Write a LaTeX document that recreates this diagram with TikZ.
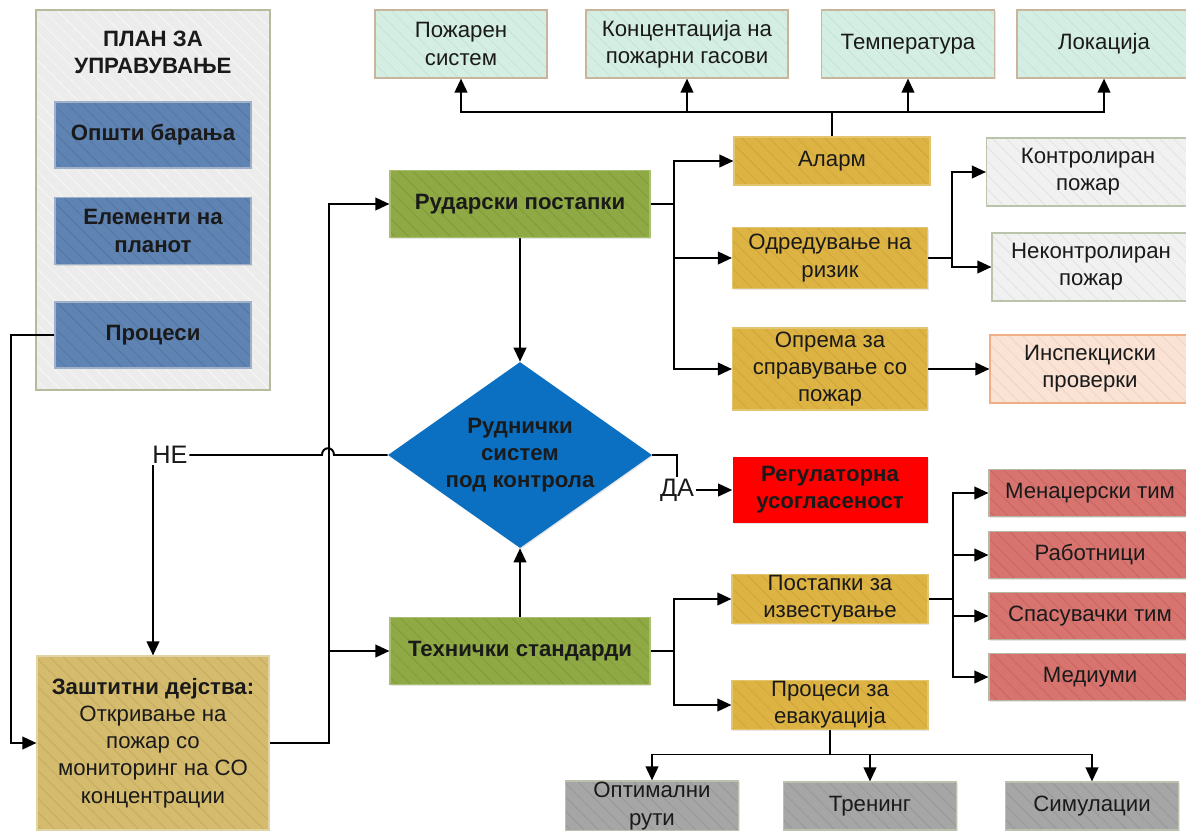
\documentclass[tikz,border=0pt]{standalone}
\usepackage{fontspec}
\setmainfont{Liberation Sans}
\usetikzlibrary{arrows.meta}
\usetikzlibrary{shapes.geometric}
\usetikzlibrary{shadows}
\usetikzlibrary{patterns.meta}
\pgfdeclarelayer{edgelayer}
\pgfdeclarelayer{nodelayer}
\pgfsetlayers{edgelayer,nodelayer,main}
\definecolor{ink}{HTML}{1A1A1A}
\definecolor{panelfill}{HTML}{ECECEC}
\definecolor{panelhatch}{HTML}{F8F8F8}
\definecolor{panelline}{HTML}{B5BC9E}
\definecolor{planblue}{HTML}{5F83B3}
\definecolor{planhatch}{HTML}{55779F}
\definecolor{planline}{HTML}{9FB0C9}
\definecolor{mint}{HTML}{D5EEE3}
\definecolor{minthatch}{HTML}{C6E3D6}
\definecolor{mintline}{HTML}{C9B59B}
\definecolor{gold}{HTML}{DDB443}
\definecolor{goldhatch}{HTML}{CFA63A}
\definecolor{goldline}{HTML}{E3C46F}
\definecolor{grass}{HTML}{8FAA44}
\definecolor{grasshatch}{HTML}{819B3A}
\definecolor{grassline}{HTML}{A9BF73}
\definecolor{pale}{HTML}{F1F1F1}
\definecolor{palehatch}{HTML}{E3E3E3}
\definecolor{paleline}{HTML}{BAC4AB}
\definecolor{peach}{HTML}{FAE3D5}
\definecolor{peachhatch}{HTML}{F0D2C1}
\definecolor{peachline}{HTML}{F0AE86}
\definecolor{salmon}{HTML}{D8746F}
\definecolor{salmonhatch}{HTML}{CA6660}
\definecolor{salmonline}{HTML}{B5B9A4}
\definecolor{routegrey}{HTML}{A6A6A6}
\definecolor{routehatch}{HTML}{989898}
\definecolor{routeline}{HTML}{BAC1AC}
\definecolor{khaki}{HTML}{D5BB6E}
\definecolor{khakihatch}{HTML}{C6AC5E}
\definecolor{khakiline}{HTML}{E2D3A4}
\definecolor{decblue}{HTML}{0B70C1}
\definecolor{alertred}{HTML}{FF0000}
\newcommand{\boxfont}{\fontsize{15.8}{19.3}\selectfont}
\newcommand{\yesnofont}{\fontsize{18}{20}\selectfont}
\tikzset{hatched/.style n args={3}{preaction={fill=#1},pattern={Lines[angle=-45,distance=7pt,line width=0.6pt]},pattern color=#2,draw=#3,line width=0.8pt}}
\tikzstyle{none}=[inner sep=0pt]
\tikzstyle{flow}=[-{Triangle[length=10pt,width=9pt]},draw=black,line width=1.4pt]
\tikzstyle{line}=[draw=black,line width=1.4pt]
\tikzstyle{box}=[rectangle,align=center,inner sep=1pt,font=\boxfont,text=ink,drop shadow={opacity=0.2,shadow xshift=0.8pt,shadow yshift=-0.8pt}]
\tikzstyle{panel}=[box,hatched={panelfill}{panelhatch}{panelline},minimum width=5.85cm,minimum height=9.5cm]
\tikzstyle{title}=[inner sep=0pt,align=center,font=\boxfont\bfseries,text=ink]
\tikzstyle{planitem}=[box,hatched={planblue}{planhatch}{planline},font=\boxfont\bfseries,minimum width=4.9cm,minimum height=1.65cm]
\tikzstyle{sensor}=[box,hatched={mint}{minthatch}{mintline},minimum height=1.7cm]
\tikzstyle{action}=[box,hatched={gold}{goldhatch}{goldline},minimum width=4.9cm]
\tikzstyle{branch}=[box,hatched={grass}{grasshatch}{grassline},font=\boxfont\bfseries,minimum width=6.5cm,minimum height=1.675cm]
\tikzstyle{fire}=[box,hatched={pale}{palehatch}{paleline},minimum height=1.7cm]
\tikzstyle{check}=[box,hatched={peach}{peachhatch}{peachline},minimum width=5cm,minimum height=1.7cm]
\tikzstyle{team}=[box,hatched={salmon}{salmonhatch}{salmonline},minimum width=5.05cm,minimum height=1.175cm]
\tikzstyle{route}=[box,hatched={routegrey}{routehatch}{routeline},minimum width=4.33cm,minimum height=1.2cm]
\tikzstyle{protect}=[box,hatched={khaki}{khakihatch}{khakiline},minimum width=5.8cm,minimum height=4.35cm]
\tikzstyle{alert}=[box,fill=alertred,minimum width=4.875cm,minimum height=1.65cm,font=\boxfont\bfseries]
\tikzstyle{decision}=[diamond,fill=decblue,inner sep=0pt,minimum width=6.6cm,minimum height=4.65cm,drop shadow={opacity=0.2,shadow xshift=0.8pt,shadow yshift=-0.8pt}]
\tikzstyle{answer}=[inner sep=1pt,font=\yesnofont,text=ink]

\begin{document}
\begin{tikzpicture}
	\useasboundingbox (0, 0) rectangle (29.65, -20.75);
	\begin{pgfonlayer}{nodelayer}
		\node [style=panel] (0) at (3.825, -5) {};
		\node [style=title] (1) at (3.825, -1.3) {ПЛАН ЗА\\УПРАВУВАЊЕ};
		\node [style=planitem] (2) at (3.825, -3.375) {Општи барања};
		\node [style=planitem, minimum height=1.675cm] (3) at (3.825, -5.775) {Елементи на\\планот};
		\node [style=planitem] (4) at (3.825, -8.375) {Процеси};
		\node [style=sensor, minimum width=4.3cm] (5) at (11.525, -1.1) {Пожарен\\систем};
		\node [style=sensor, minimum width=5.05cm] (6) at (17.175, -1.1) {Концентација на\\пожарни гасови};
		\node [style=sensor, minimum width=4.325cm] (7) at (22.7, -1.1) {Температура};
		\node [style=sensor, minimum width=4.35cm] (8) at (27.6, -1.1) {Локација};
		\node [style=branch] (9) at (13, -5.1) {Рударски постапки};
		\node [style=action, minimum height=1.2cm] (10) at (20.8, -4.025) {Аларм};
		\node [style=action, minimum width=4.875cm, minimum height=1.525cm] (11) at (20.75, -6.45) {Одредување на\\ризик};
		\node [style=action, minimum width=4.875cm, minimum height=2.05cm] (12) at (20.75, -9.225) {Опрема за\\справување со\\пожар};
		\node [style=fire, minimum width=5.075cm] (13) at (27.2, -4.3) {Контролиран\\пожар};
		\node [style=fire, minimum width=4.95cm] (14) at (27.275, -6.675) {Неконтролиран\\пожар};
		\node [style=check] (15) at (27.25, -9.225) {Инспекциски\\проверки};
		\node [style=decision] (16) at (13, -11.375) {};
		\node [style=title] (17) at (13, -11.375) {Руднички\\систем\\под контрола};
		\node [style=answer] (18) at (4.25, -11.375) {НЕ};
		\node [style=answer] (19) at (16.925, -12.25) {ДА};
		\node [style=alert] (20) at (20.75, -12.25) {Регулаторна\\усогласеност};
		\node [style=branch] (21) at (13, -16.275) {Технички стандарди};
		\node [style=action, minimum height=1.2cm] (22) at (20.75, -14.975) {Постапки за\\известување};
		\node [style=action, minimum height=1.175cm] (23) at (20.75, -17.625) {Процеси за\\евакуација};
		\node [style=team] (24) at (27.25, -12.325) {Менаџерски тим};
		\node [style=team] (25) at (27.25, -13.875) {Работници};
		\node [style=team] (26) at (27.25, -15.4) {Спасувачки тим};
		\node [style=team] (27) at (27.25, -16.925) {Медиуми};
		\node [style=route] (28) at (16.3, -20.15) {Оптимални\\рути};
		\node [style=route] (29) at (21.75, -20.15) {Тренинг};
		\node [style=route] (30) at (27.3, -20.15) {Симулации};
		\node [style=protect] (31) at (3.825, -18.575) {\textbf{Заштитни дејства:}\\Откривање на\\пожар со\\мониторинг на CO\\концентрации};
	\end{pgfonlayer}
	\begin{pgfonlayer}{edgelayer}
		\draw [style=flow] (31.east) -- ++(1.475, 0) coordinate (33) |- (9.west);
		\draw [style=flow] (33 |- 21.west) -- (21.west);
		\draw [style=line] (16.west) -- (8.35, -11.375) .. controls (8.35, -11.15) and (8.05, -11.15) .. (8.05, -11.375) -- (18.east);
		\draw [style=flow] (31.north |- 18.south) -- (31.north);
		\draw [style=line] (16.east) -| (19.north);
		\draw [style=flow] (19.east) -- (20.west);
		\draw [style=flow] (9.south) -- (16.north);
		\draw [style=flow] (21.north) -- (16.south);
		\draw [style=flow] (9.east) -- ++(0.575, 0) coordinate (34) |- (10.west);
		\draw [style=flow] (34) |- (11.west);
		\draw [style=flow] (34) |- (12.west);
		\draw [style=line] (10.north) -- ++(0, 0.6) coordinate (35);
		\draw [style=flow] (35) -| (5.south);
		\draw [style=flow] (35) -| (8.south);
		\draw [style=flow] (35 -| 6.south) -- (6.south);
		\draw [style=flow] (35 -| 7.south) -- (7.south);
		\draw [style=flow] (11.east) -- ++(0.6, 0) coordinate (36) |- (13.west);
		\draw [style=flow] (36) |- (14.west);
		\draw [style=flow] (12.east) -- (15.west);
		\draw [style=flow] (21.east) -- ++(0.575, 0) coordinate (37) |- (22.west);
		\draw [style=flow] (37) |- (23.west);
		\draw [style=flow] (22.east) -- ++(0.6, 0) coordinate (38) |- (24.west);
		\draw [style=flow] (38) |- (25.west);
		\draw [style=flow] (38) |- (26.west);
		\draw [style=flow] (38) |- (27.west);
		\draw [style=line] (23.south) -- ++(0, -0.6) coordinate (39);
		\draw [style=flow] (39) -| (28.north);
		\draw [style=flow] (39) -| (30.north);
		\draw [style=flow] (39 -| 29.north) -- (29.north);
	\end{pgfonlayer}
	\draw [style=flow] (4.west) -- ++(-1.075, 0) |- (31.west);
\end{tikzpicture}
\end{document}
